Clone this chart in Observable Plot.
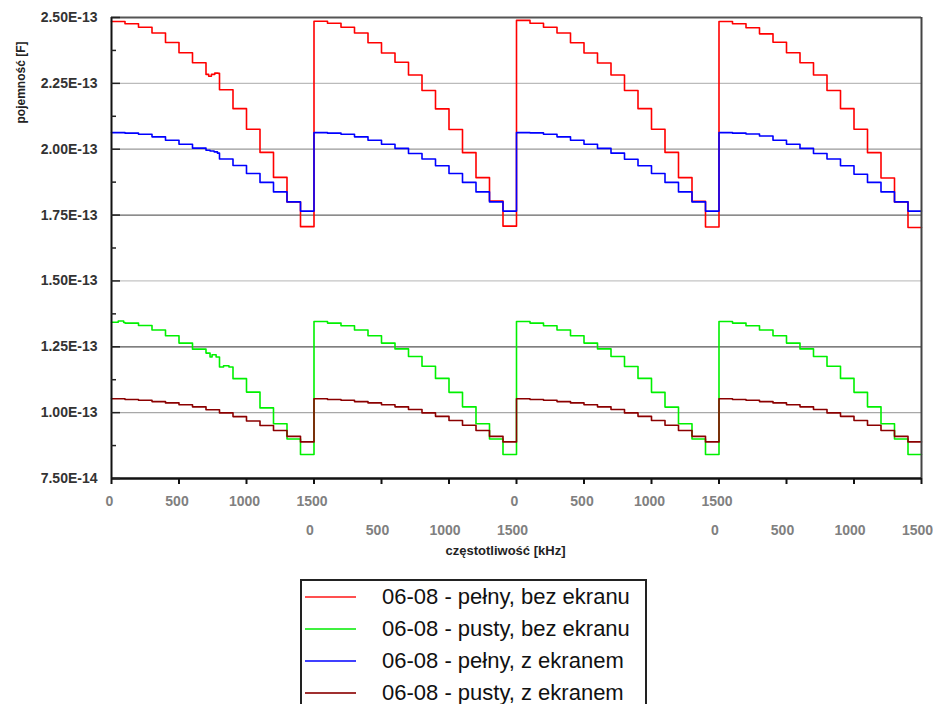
<!DOCTYPE html>
<html><head><meta charset="utf-8">
<script src="https://cdn.jsdelivr.net/npm/d3@7"></script>
<script src="https://cdn.jsdelivr.net/npm/@observablehq/plot@0.6"></script>
<style>
body{margin:0;background:#fff;font-family:"Liberation Sans",Arial,sans-serif;}
#chart svg{display:block;}
.legend{margin-left:300px;margin-top:9px;width:343px;height:140px;border:2px solid #222;border-bottom:none;}
.row{display:flex;align-items:center;height:32px;}
.sw{width:51px;height:2px;margin-left:3px;margin-right:26px;flex:none;}
.lbl{font-size:22px;color:#111;white-space:nowrap;}
</style></head><body>
<div id="chart"></div>
<div class="legend" id="legend"></div>
<script>
// ---- data ----
const sweepOffsets = [0, 1500, 3000, 4500];          // kHz, start of each repeated sweep on the shared axis
const stepFreq = [0, 100, 200, 300, 400, 500, 600, 700, 800, 900, 1000, 1100, 1200, 1300, 1400]; // kHz
const sweepEnd = 6000;
const freqTickLabels = [0, 500, 1000, 1500];
const labelRows = [1, 2, 1, 2];
const seriesNames = ["06-08 - pełny, bez ekranu", "06-08 - pusty, bez ekranu", "06-08 - pełny, z ekranem", "06-08 - pusty, z ekranem"];
const seriesColors = ["#ff0000", "#00f000", "#0000ff", "#8b0000"];

// capacitance in units of 1E-13 F, one row per sweep
const pelnyBez = [
  [2.485, 2.476, 2.463, 2.441, 2.405, 2.366, 2.328, 2.284, 2.226, 2.154, 2.076, 1.988, 1.893, 1.800, 1.706],
  [2.486, 2.478, 2.463, 2.441, 2.404, 2.365, 2.330, 2.282, 2.223, 2.153, 2.075, 1.987, 1.892, 1.803, 1.708],
  [2.489, 2.478, 2.463, 2.441, 2.404, 2.365, 2.327, 2.282, 2.223, 2.154, 2.076, 1.988, 1.892, 1.802, 1.705],
  [2.485, 2.476, 2.461, 2.438, 2.406, 2.366, 2.328, 2.282, 2.223, 2.154, 2.076, 1.987, 1.891, 1.800, 1.703]
];
const pelnyBezExtra = [[720, 2.277], [740, 2.284], [765, 2.289], [790, 2.288]]; // extra readings, sweep 1

const pustyBez = [
  [1.343, 1.340, 1.331, 1.314, 1.292, 1.264, 1.241, 1.226, 1.173, 1.129, 1.078, 1.018, 0.958, 0.900, 0.841],
  [1.346, 1.340, 1.330, 1.314, 1.292, 1.264, 1.242, 1.213, 1.176, 1.130, 1.077, 1.022, 0.958, 0.900, 0.841],
  [1.346, 1.340, 1.330, 1.314, 1.292, 1.264, 1.242, 1.213, 1.175, 1.130, 1.077, 1.021, 0.958, 0.900, 0.841],
  [1.346, 1.340, 1.330, 1.314, 1.292, 1.264, 1.242, 1.213, 1.176, 1.130, 1.077, 1.022, 0.958, 0.900, 0.841]
];
const pustyBezExtra = [[50, 1.348], [90, 1.342], [730, 1.211], [745, 1.220], [775, 1.211], [830, 1.178], [870, 1.173]];

const pelnyZ = [
  [2.063, 2.061, 2.057, 2.047, 2.034, 2.019, 2.004, 1.996, 1.963, 1.938, 1.908, 1.874, 1.838, 1.800, 1.765],
  [2.063, 2.061, 2.057, 2.047, 2.034, 2.019, 2.003, 1.984, 1.963, 1.937, 1.908, 1.874, 1.838, 1.800, 1.765],
  [2.063, 2.062, 2.057, 2.047, 2.034, 2.019, 2.003, 1.985, 1.962, 1.937, 1.908, 1.874, 1.838, 1.800, 1.765],
  [2.063, 2.061, 2.058, 2.050, 2.034, 2.019, 2.003, 1.984, 1.963, 1.937, 1.905, 1.874, 1.838, 1.800, 1.765]
];
const pelnyZExtra = [[730, 1.993], [760, 1.990], [785, 1.985]];

const pustyZ = [
  [1.053, 1.050, 1.047, 1.042, 1.037, 1.030, 1.022, 1.011, 0.999, 0.985, 0.968, 0.951, 0.932, 0.910, 0.889],
  [1.053, 1.050, 1.047, 1.042, 1.037, 1.030, 1.022, 1.012, 0.999, 0.986, 0.970, 0.952, 0.932, 0.910, 0.889],
  [1.053, 1.050, 1.047, 1.042, 1.037, 1.030, 1.022, 1.012, 0.999, 0.986, 0.970, 0.952, 0.932, 0.910, 0.889],
  [1.053, 1.050, 1.047, 1.042, 1.037, 1.030, 1.022, 1.012, 0.999, 0.986, 0.970, 0.952, 0.932, 0.910, 0.889]
];
const pustyZExtra = [];

const yMajor = [7.5e-14, 1.0e-13, 1.25e-13, 1.5e-13, 1.75e-13, 2.0e-13, 2.25e-13, 2.5e-13];
const yMinor = [8.75e-14, 1.125e-13, 1.375e-13, 1.625e-13, 1.875e-13, 2.125e-13, 2.375e-13];
const xTicks = [0, 500, 1000, 1500, 2000, 2500, 3000, 3500, 4000, 4500, 5000, 5500, 6000];
const gridValues = [1.0e-13, 1.25e-13, 1.5e-13, 1.75e-13, 2.0e-13, 2.25e-13];

// ---- styles ----
const gridStrokes = ["#a8a8a8", "#555", "#c4c4c4", "#666", "#999", "#bbb"];
const legendSwatchColors = ["#ff5050", "#40f040", "#4040ff", "#a03030"];

// ---- build table ----
const E13 = 1e-13;
const allSeries = [[pelnyBez, pelnyBezExtra], [pustyBez, pustyBezExtra], [pelnyZ, pelnyZExtra], [pustyZ, pustyZExtra]];
const lineData = [];
allSeries.forEach(([sweeps, extra], si) => {
  const pts = [];
  sweeps.forEach((vals, k) => {
    vals.forEach((v, i) => pts.push({x: sweepOffsets[k] + stepFreq[i], y: v * E13}));
    if (k === 0) extra.forEach(([f, v]) => pts.push({x: sweepOffsets[0] + f, y: v * E13}));
  });
  pts.sort((a, b) => a.x - b.x);
  const last = sweeps[sweeps.length - 1];
  pts.push({x: sweepEnd, y: last[last.length - 1] * E13});
  pts.forEach(p => lineData.push({...p, series: seriesNames[si]}));
});

const labelData = [];
sweepOffsets.forEach((off, k) => freqTickLabels.forEach(f => labelData.push({x: off + f, label: String(f), row: labelRows[k]})));
const row1 = labelData.filter(d => d.row === 1);
const row2 = labelData.filter(d => d.row === 2);

const fmtY = d => d.toExponential(2).toUpperCase();
const blank = () => "";

const chart = Plot.plot({
  width: 933,
  height: 570,
  marginLeft: 111,
  marginRight: 12,
  marginTop: 17,
  marginBottom: 92,
  style: {fontFamily: "'Liberation Sans', Arial, sans-serif", background: "#fff"},
  x: {domain: [0, sweepEnd]},
  y: {domain: [7.5e-14, 2.5e-13]},
  color: {domain: seriesNames, range: seriesColors},
  marks: [
    Plot.ruleY(gridValues, {stroke: (d, i) => gridStrokes[i], strokeWidth: 1.2}),
    Plot.line(lineData, {x: "x", y: "y", z: "series", stroke: "series", curve: "step-after", strokeWidth: 1.6}),
    Plot.ruleY([2.5e-13], {stroke: "#555", strokeWidth: 2}),
    Plot.ruleX([sweepEnd], {stroke: "#444", strokeWidth: 2}),
    Plot.ruleX([0], {stroke: "#111", strokeWidth: 2}),
    Plot.ruleY([7.5e-14], {stroke: "#111", strokeWidth: 2.4}),
    Plot.axisY({ticks: yMajor, tickSize: 9, dx: 9, tickFormat: blank, stroke: "#222", strokeWidth: 1.5, label: null}),
    Plot.axisY({ticks: yMinor, tickSize: 5, dx: 5, tickFormat: blank, stroke: "#222", strokeWidth: 1.5, label: null}),
    Plot.axisY({ticks: yMajor, tickSize: 0, tickPadding: 14, tickFormat: fmtY, fontSize: 14, fontWeight: "bold", fill: "#333", label: null}),
    Plot.axisX({ticks: xTicks, tickSize: 6, tickFormat: blank, stroke: "#111", strokeWidth: 2, label: null}),
    Plot.text(row1, {x: "x", text: "label", frameAnchor: "bottom", lineAnchor: "middle", dy: 23, dx: -2, fontSize: 14, fontWeight: "bold", fill: "#808080"}),
    Plot.text(row2, {x: "x", text: "label", frameAnchor: "bottom", lineAnchor: "middle", dy: 52, dx: -4, fontSize: 14, fontWeight: "bold", fill: "#808080"}),
    Plot.text(["częstotliwość [kHz]"], {text: d => d, frameAnchor: "bottom", lineAnchor: "middle", textAnchor: "middle", dx: -11, dy: 72, fontSize: 13, fontWeight: "bold", fill: "#222"}),
    Plot.text(["pojemność [F]"], {text: d => d, frameAnchor: "top-left", textAnchor: "middle", lineAnchor: "middle", dx: -90, dy: 65, rotate: -90, fontSize: 12, fontWeight: "bold", fill: "#222"})
  ]
});
document.getElementById("chart").append(chart);

const legend = document.getElementById("legend");
seriesNames.forEach((name, i) => {
  const row = document.createElement("div");
  row.className = "row";
  const sw = document.createElement("div");
  sw.className = "sw";
  sw.style.backgroundColor = legendSwatchColors[i];
  const lbl = document.createElement("span");
  lbl.className = "lbl";
  lbl.textContent = name;
  row.append(sw, lbl);
  legend.append(row);
});
</script></body></html>
